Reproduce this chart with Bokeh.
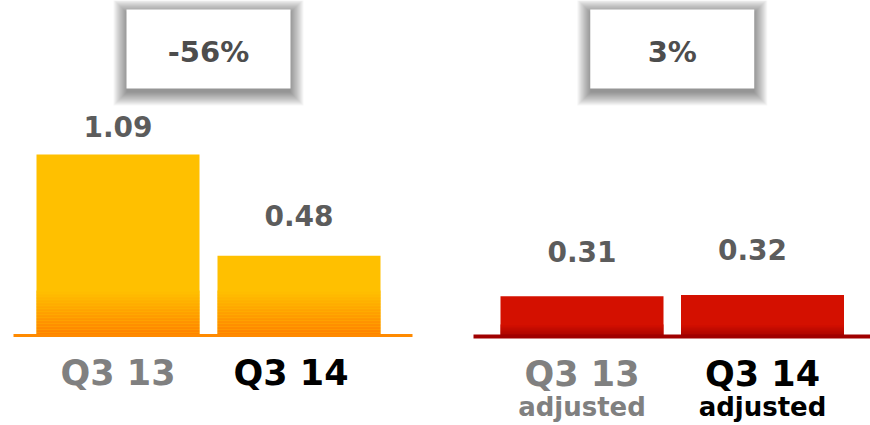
from bokeh.plotting import figure
from bokeh.layouts import row
from bokeh.models import Range1d, ColumnDataSource
from bokeh.core.properties import value
from bokeh.embed import file_html
from bokeh.resources import INLINE
import numpy as np

# ---------------- data ----------------
left_categories = ["Q3 13", "Q3 14"]
left_values = [1.09, 0.48]
left_change = "-56%"

right_categories = ["Q3 13", "Q3 14"]
right_sublabels = ["adjusted", "adjusted"]
right_values = [0.31, 0.32]
right_change = "3%"

# ---------------- styles ----------------
H = 425
LABEL_COLORS = ["#808080", "#000000"]
VALUE_COLOR = "#5c5c5c"
FONT = "DejaVu Sans"


def mix(c1, c2, t):
    return "#%02x%02x%02x" % tuple(int(round(a + (b - a) * t)) for a, b in zip(c1, c2))


def panel(width, x0_px, pitch_px, base_px, k, cats, vals, change, bar_top, bar_bottom,
          grad_px, base_color, base_from_px, base_to_px, base_width, value_gaps,
          value_dx, label_dx, sublabels=None):
    p = figure(width=width, height=H, output_backend="svg", toolbar_location=None,
               x_axis_location=None, y_axis_location=None, min_border=0)
    p.outline_line_color = None
    p.grid.visible = False
    p.background_fill_color = "white"
    p.border_fill_color = "white"
    start = -x0_px / pitch_px
    p.x_range = Range1d(start, start + width / pitch_px)
    p.y_range = Range1d(-base_px / k, (H - base_px) / k)

    def ydat(sy):  # screen y from top -> data
        return (H - sy - base_px) / k

    xs = np.arange(len(cats), dtype=float)
    bw = 163.0 / pitch_px

    # bars
    src = ColumnDataSource(dict(x=xs, top=vals))
    p.vbar(x="x", top="top", width=bw, bottom=0, source=src,
           fill_color=mix(bar_top, bar_top, 0), line_color=None)
    # bottom gradient strips
    n = 30
    lefts, rights, bots, tops, cols = [], [], [], [], []
    for xi, v in zip(xs, vals):
        for i in range(n):
            b = i * grad_px / n / k
            t = (i + 1) * grad_px / n / k
            if b >= v:
                break
            lefts.append(xi - bw / 2)
            rights.append(xi + bw / 2)
            bots.append(b)
            tops.append(min(t, v))
            cols.append(mix(bar_bottom, bar_top, (i + 0.5) / n))
    p.quad(left=lefts, right=rights, bottom=bots, top=tops, fill_color=cols, line_color=None)

    # baseline
    p.segment(x0=[(base_from_px - x0_px) / pitch_px], y0=[0],
              x1=[(base_to_px - x0_px) / pitch_px], y1=[0],
              line_color=base_color, line_width=base_width)

    # value labels
    for xi, v, g, dx in zip(xs, vals, value_gaps, value_dx):
        p.text(x=[xi], y=[v], text=["%.2f" % v], x_offset=dx, y_offset=-(g + 10),
               text_align="center", text_baseline="alphabetic", text_font=value(FONT),
               text_font_style="bold", text_font_size="28px", text_color=VALUE_COLOR)

    # category labels
    for xi, c, col, dx in zip(xs, cats, LABEL_COLORS, label_dx):
        p.text(x=[xi], y=[0], text=[c], x_offset=dx, y_offset=37, text_align="center",
               text_baseline="alphabetic", text_font=value(FONT), text_font_style="bold",
               text_font_size="35px", text_color=col)
    if sublabels:
        for xi, s, col, dx in zip(xs, sublabels, LABEL_COLORS, label_dx):
            p.text(x=[xi], y=[0], text=[s], x_offset=dx, y_offset=70, text_align="center",
                   text_baseline="alphabetic", text_font=value(FONT), text_font_style="bold",
                   text_font_size="26px", text_color=col)

    # change box with soft shadow
    cx = float(xs.mean())
    cy = ydat(48.5)
    cy_sh = ydat(52.0)
    for i in range(14, 0, -1):
        p.rect(x=[cx], y=[cy_sh], width=162 + 2 * i, height=78 + 2 * i,
               width_units="screen", height_units="screen",
               fill_color="black", fill_alpha=0.035, line_color=None)
    p.rect(x=[cx], y=[cy], width=164, height=79, width_units="screen", height_units="screen",
           fill_color="white", line_color=None)
    p.text(x=[cx], y=[cy], text=[change], y_offset=3, text_align="center",
           text_baseline="middle", text_font=value(FONT), text_font_style="bold",
           text_font_size="29px", text_color="#4d4d4d")
    return p


p1 = panel(435, 117.5, 181.0, 90, 166.0, left_categories, left_values, left_change,
           (255, 192, 0), (255, 128, 0), 45, "#FF8A00", 13, 412, 3, [18, 30],
           [0, 0], [0, -8])
p2 = panel(435, 146.5, 180.5, 89, 130.0, right_categories, right_values, right_change,
           (212, 16, 0), (150, 0, 0), 12, "#A00000", 38, 440, 4, [35, 35],
           [0, -10], [0, 0], sublabels=right_sublabels)

layout = row(p1, p2)
open("out.html", "w").write(file_html(layout, INLINE))
